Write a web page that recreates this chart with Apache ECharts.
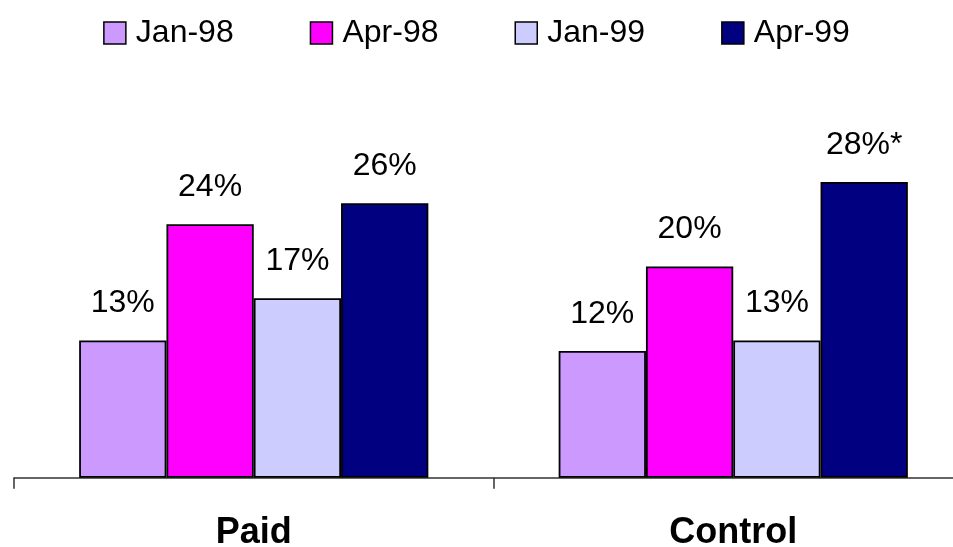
<!DOCTYPE html>
<html>
<head>
<meta charset="utf-8">
<script src="https://cdn.jsdelivr.net/npm/echarts@6/dist/echarts.min.js"></script>
<style>
  html, body { margin: 0; padding: 0; background: #fff; }
  #chart { width: 953px; height: 547px; }
</style>
</head>
<body>
<div id="chart"></div>
<script>
// Groups along the x axis and the four survey waves
const categories = ['Paid', 'Control'];
const waves = ['Jan-98', 'Apr-98', 'Jan-99', 'Apr-99'];
const waveColors = ['#CC99FF', '#FF00FF', '#CCCCFF', '#000080'];

// Share of respondents (%) per wave, one value per group
const jan98 = [13, 12];
const apr98 = [24, 20];
const jan99 = [17, 13];
const apr99 = [26, 28];
// Marker appended to the Control Apr-99 value
const apr99Notes = ['', '*'];

const seriesValues = [jan98, apr98, jan99, apr99];
const FONT = '"Liberation Sans", Arial, sans-serif';

const series = seriesValues.map((vals, i) => ({
  name: waves[i],
  type: 'bar',
  data: vals,
  barWidth: 87.3,
  barGap: '0%',
  itemStyle: { color: waveColors[i], borderColor: '#000', borderWidth: 1.8 },
  label: {
    show: true,
    position: 'top',
    distance: 21,
    fontFamily: FONT,
    fontSize: 32,
    color: '#000',
    formatter: p => p.value + '%' + (i === 3 ? apr99Notes[p.dataIndex] : '')
  }
}));

const chart = echarts.init(document.getElementById('chart'));
chart.setOption({
  animation: false,
  backgroundColor: '#fff',
  legend: {
    top: 12,
    left: 'center',
    itemWidth: 22,
    itemHeight: 22,
    itemGap: 76,
    icon: 'rect',
    itemStyle: { borderColor: '#000', borderWidth: 1.5 },
    textStyle: { fontFamily: FONT, fontSize: 32, color: '#000', padding: [0, 0, 0, 5] },
    data: waves
  },
  grid: {
    left: 14, right: -20, top: 55.3, bottom: 69.3,
    containLabel: false,
    outerBoundsMode: 'none'
  },
  xAxis: {
    type: 'category',
    data: categories,
    axisLine: { lineStyle: { color: '#333', width: 1.5 } },
    axisTick: { show: true, length: 11, lineStyle: { color: '#333', width: 1.5 } },
    axisLabel: {
      margin: 37,
      fontFamily: FONT,
      fontSize: 36,
      fontWeight: 'bold',
      color: '#000'
    }
  },
  yAxis: {
    type: 'value',
    min: 0,
    max: 40,
    show: false,
    splitLine: { show: false }
  },
  series
});
</script>
</body>
</html>
